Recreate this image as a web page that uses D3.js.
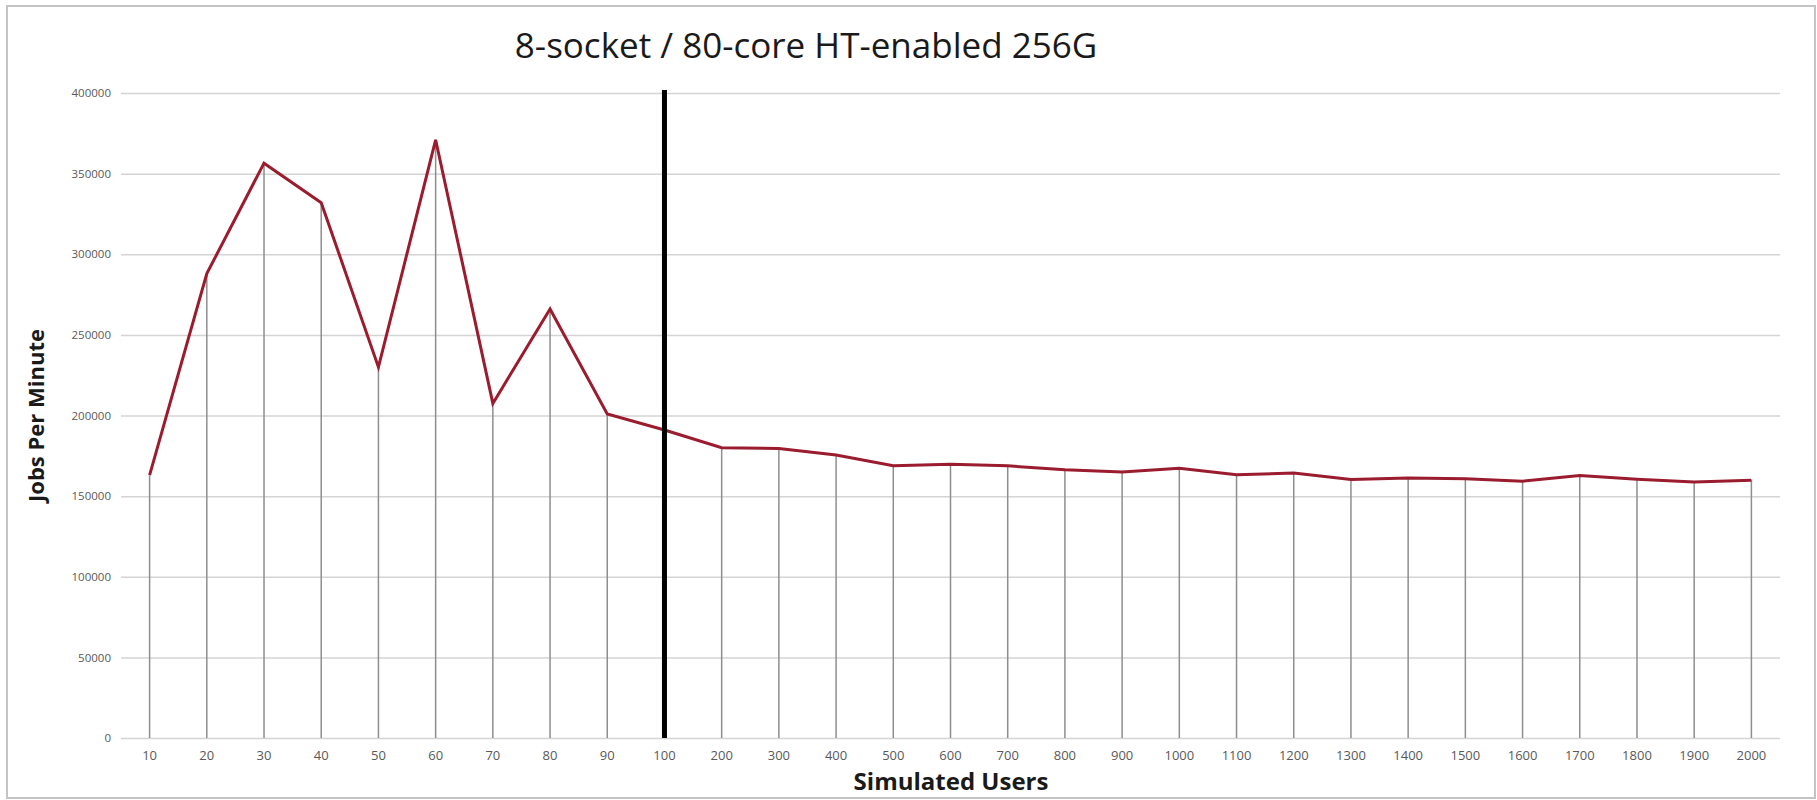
<!DOCTYPE html>
<html>
<head>
<meta charset="utf-8">
<script src="https://cdn.jsdelivr.net/npm/d3@7"></script>
<style>
  html, body { margin: 0; padding: 0; background: #ffffff; }
  svg { display: block; }
</style>
</head>
<body>
<svg id="chart" width="1817" height="800"></svg>
<script>
// ---- data ----
const categories = ["10","20","30","40","50","60","70","80","90","100","200","300","400","500","600","700","800","900","1000","1100","1200","1300","1400","1500","1600","1700","1800","1900","2000"];
const jobsPerMinute = [163000, 288000, 356500, 332000, 230000, 371000, 207500, 266000, 201000, 191000, 180000, 179500, 175500, 168800, 169800, 168800, 166300, 165000, 167300, 163300, 164300, 160300, 161300, 160800, 159300, 162800, 160500, 158800, 159800];
const yTicks = [0, 50000, 100000, 150000, 200000, 250000, 300000, 350000, 400000];
const markerCategory = "100";
const titleText = "8-socket / 80-core HT-enabled 256G";
const xTitle = "Simulated Users";
const yTitle = "Jobs Per Minute";

// ---- layout ----
const svg = d3.select("#chart");
const plot = { left: 121, right: 1780, top: 93, bottom: 738 };

// frame
svg.append("rect")
  .attr("x", 7).attr("y", 6).attr("width", 1808).attr("height", 792)
  .attr("fill", "#ffffff").attr("stroke", "#c4c4c4").attr("stroke-width", 2);

const x = d3.scaleBand().domain(categories).range([plot.left, plot.right]).padding(0);
const y = d3.scaleLinear().domain([0, 400000]).range([plot.bottom, plot.top]);
const cx = c => x(c) + x.bandwidth() / 2;

// horizontal gridlines via axis
const yAxis = d3.axisLeft(y).tickValues(yTicks).tickSize(-(plot.right - plot.left)).tickPadding(10).tickFormat(d3.format("d"));
const gy = svg.append("g").attr("transform", `translate(${plot.left},0)`).call(yAxis);
gy.select(".domain").remove();
gy.selectAll(".tick line").attr("stroke", "#d4d4d4").attr("stroke-width", 1.5);
gy.selectAll(".tick text").attr("fill", "#595959").attr("font-family", "Open Sans, sans-serif").attr("font-size", 11.5);

// x axis labels
const xAxis = d3.axisBottom(x).tickSize(0).tickPadding(13);
const gx = svg.append("g").attr("transform", `translate(0,${plot.bottom})`).call(xAxis);
gx.select(".domain").remove();
gx.selectAll(".tick text").attr("fill", "#595959").attr("font-family", "Open Sans, sans-serif").attr("font-size", 13);

// drop lines
svg.append("g").selectAll("line")
  .data(categories)
  .join("line")
  .attr("x1", (c) => cx(c)).attr("x2", (c) => cx(c))
  .attr("y1", (c, i) => y(jobsPerMinute[i])).attr("y2", y(0))
  .attr("stroke", "#8e8e8e").attr("stroke-width", 1.5);

// series line
const line = d3.line().x((d, i) => cx(categories[i])).y(d => y(d));
svg.append("path")
  .datum(jobsPerMinute)
  .attr("d", line)
  .attr("fill", "none")
  .attr("stroke", "#9a1c2e")
  .attr("stroke-width", 3)
  .attr("stroke-linejoin", "miter");

// marker line at 100 users
svg.append("line")
  .attr("x1", cx(markerCategory)).attr("x2", cx(markerCategory))
  .attr("y1", plot.top - 3).attr("y2", plot.bottom)
  .attr("stroke", "#000000").attr("stroke-width", 5);

// titles
svg.append("text")
  .attr("x", 806).attr("y", 58)
  .attr("text-anchor", "middle")
  .attr("font-family", "Open Sans, sans-serif")
  .attr("font-size", 35)
  .attr("fill", "#1a1a1a")
  .text(titleText);

svg.append("text")
  .attr("x", 951).attr("y", 790)
  .attr("text-anchor", "middle")
  .attr("font-family", "Open Sans, sans-serif")
  .attr("font-weight", "bold")
  .attr("font-size", 24)
  .attr("fill", "#1a1a1a")
  .text(xTitle);

svg.append("text")
  .attr("transform", `translate(44,${(plot.top + plot.bottom) / 2}) rotate(-90)`)
  .attr("text-anchor", "middle")
  .attr("font-family", "Open Sans, sans-serif")
  .attr("font-weight", "bold")
  .attr("font-size", 22)
  .attr("fill", "#1a1a1a")
  .text(yTitle);
</script>
</body>
</html>
